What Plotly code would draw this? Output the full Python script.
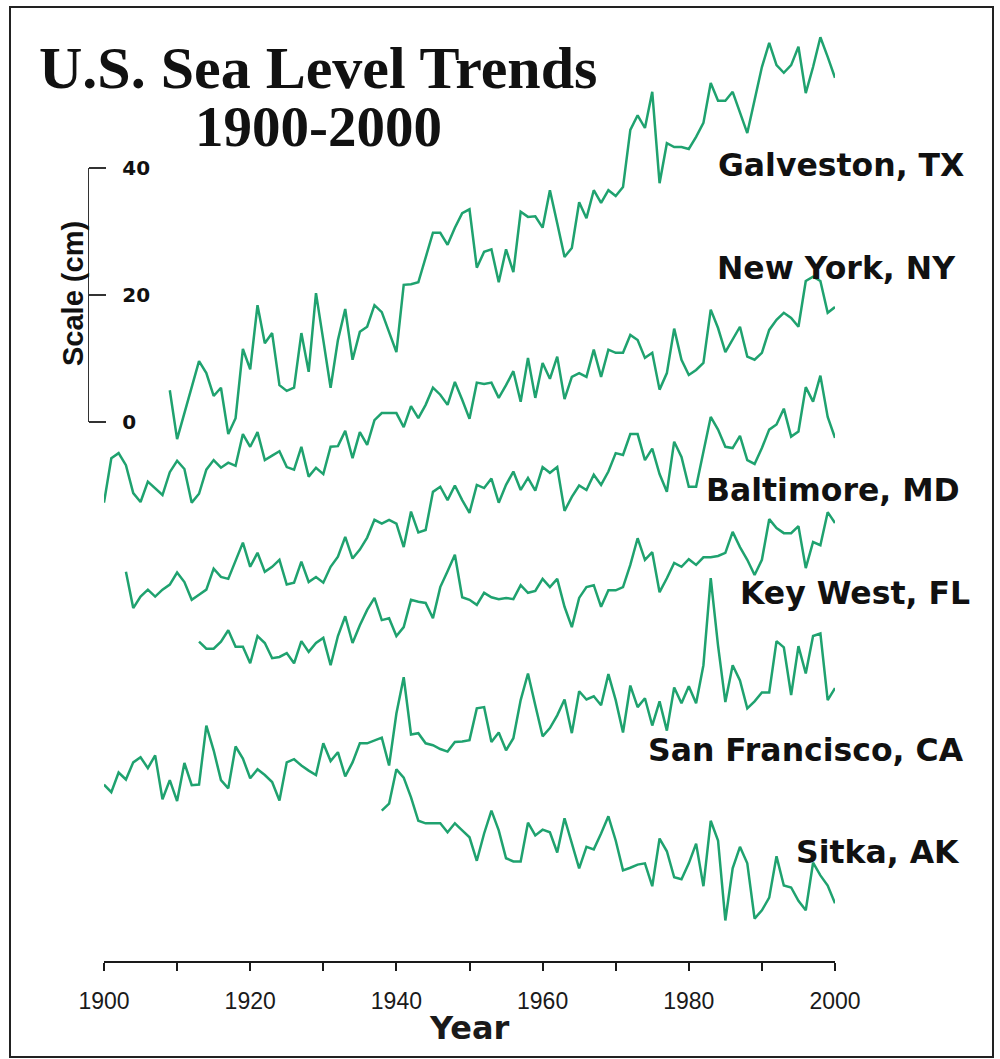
import plotly.graph_objects as go

# ---------------- data (cm) ----------------
STATIONS = ["Galveston, TX", "New York, NY", "Baltimore, MD",
            "Key West, FL", "San Francisco, CA", "Sitka, AK"]

GALVESTON_START = 1909
GALVESTON = [5.0, -2.7, 1.4, 5.5, 9.6, 7.7, 4.1, 5.4, -1.9, 0.6,
             11.5, 8.3, 18.4, 12.4, 14.0, 5.8, 4.9, 5.4, 14.0, 7.9,
             20.3, 12.9, 5.4, 12.9, 17.8, 9.8, 14.2, 15.0, 18.4, 17.3,
             14.2, 11.0, 21.6, 21.7, 22.0, 25.8, 29.8, 29.8, 27.9, 30.6,
             32.9, 33.5, 24.3, 26.8, 27.2, 22.0, 27.2, 23.6, 33.1, 32.3,
             32.4, 30.6, 36.5, 31.3, 26.0, 27.4, 34.6, 32.1, 36.5, 34.5,
             36.5, 35.6, 37.0, 46.0, 48.3, 46.3, 52.0, 37.6, 43.9, 43.3,
             43.3, 43.0, 44.9, 47.1, 53.4, 50.6, 50.6, 52.0, 48.7, 45.5,
             50.7, 55.9, 59.7, 56.2, 55.0, 56.2, 59.1, 51.8, 55.9, 60.6,
             57.5, 54.2]

NEWYORK_START = 1900
NEWYORK = [1.3, 8.3, 9.1, 7.2, 2.8, 1.4, 4.6, 3.6, 2.5, 6.1,
           7.9, 6.6, 1.3, 2.7, 6.5, 8.0, 6.8, 7.6, 7.1, 12.1,
           10.1, 12.4, 8.0, 8.7, 9.4, 6.9, 6.5, 10.1, 5.4, 6.8,
           5.8, 10.1, 10.2, 12.6, 8.3, 12.4, 10.4, 14.3, 15.4, 15.4,
           15.4, 13.2, 16.5, 14.6, 16.7, 19.4, 18.3, 16.7, 20.3, 17.5,
           14.5, 20.2, 20.0, 20.2, 17.8, 19.8, 22.0, 17.2, 24.1, 17.8,
           23.3, 20.8, 24.3, 17.6, 21.1, 21.7, 21.1, 25.4, 21.1, 25.4,
           24.9, 24.9, 27.7, 26.9, 24.1, 24.9, 19.1, 21.7, 28.7, 23.8,
           21.4, 22.2, 23.3, 31.7, 28.8, 25.0, 26.9, 29.0, 24.3, 23.8,
           24.9, 28.5, 30.1, 31.2, 30.4, 29.0, 36.2, 36.9, 36.2, 31.2,
           32.1]

BALTIMORE_START = 1903
BALTIMORE = [4.4, -1.3, 0.5, 1.6, 0.5, 1.6, 2.4,
             4.3, 2.8, 0.0, 0.8, 1.6, 4.9, 3.6, 3.3, 6.3, 9.0,
             5.2, 7.4, 4.4, 5.2, 6.3, 2.4, 2.7, 6.0, 2.8, 3.6,
             2.7, 5.2, 6.8, 9.9, 6.5, 7.9, 9.8, 12.6, 12.0, 12.6,
             12.0, 8.3, 13.9, 10.6, 11.0, 17.0, 17.8, 15.7, 18.0, 15.7,
             13.7, 18.1, 17.6, 19.1, 15.3, 18.1, 20.2, 17.3, 19.2, 17.2,
             20.9, 20.0, 20.9, 14.0, 16.2, 18.0, 17.3, 19.7, 18.1, 20.2,
             23.1, 22.8, 26.1, 26.1, 22.0, 23.8, 19.8, 17.0, 24.9, 22.5,
             17.8, 17.8, 23.3, 28.8, 26.8, 24.1, 23.9, 25.8, 22.0, 21.4,
             23.9, 26.8, 27.6, 30.1, 25.7, 26.5, 33.5, 31.2, 35.3, 28.8,
             25.5]

KEYWEST_START = 1913
KEYWEST = [5.4, 4.3, 4.3, 5.4, 7.2, 4.6, 4.6,
           2.0, 6.3, 5.2, 2.8, 3.0, 3.6, 2.0, 5.5, 3.8, 5.2,
           6.0, 1.7, 6.3, 9.4, 5.2, 8.0, 10.4, 12.3, 8.8, 9.1,
           6.3, 7.7, 12.0, 11.7, 11.5, 9.1, 14.0, 16.5, 19.1, 12.4,
           12.0, 11.2, 13.1, 12.4, 12.1, 12.3, 12.1, 14.3, 13.1, 13.4,
           15.3, 14.0, 15.3, 10.9, 7.7, 12.3, 14.0, 14.3, 10.9, 13.5,
           13.5, 14.0, 17.5, 21.7, 18.3, 19.5, 13.2, 15.4, 17.8, 17.2,
           18.4, 17.5, 18.7, 18.7, 18.9, 19.4, 22.7, 20.3, 18.3, 15.9,
           18.3, 24.7, 23.3, 22.5, 22.5, 23.6, 17.0, 21.1, 20.6, 25.8,
           24.1]

SANFRAN_START = 1900
SANFRAN = [0.9, -0.3, 2.8, 1.7, 4.4, 5.2, 3.5, 5.5, -1.4, 1.6,
           -1.7, 4.3, 0.8, 0.9, 10.2, 6.3, 1.6, 0.3, 6.9, 5.0,
           1.9, 3.3, 2.4, 1.3, -1.6, 4.4, 4.9, 3.9, 3.1, 2.4,
           7.4, 4.6, 6.0, 2.2, 4.4, 7.4, 7.4, 7.9, 8.3, 3.9,
           12.1, 17.8, 8.8, 9.0, 7.4, 7.1, 6.5, 6.1, 7.6, 7.7,
           7.9, 12.9, 13.1, 7.6, 9.1, 6.3, 8.2, 14.2, 18.4, 13.4,
           8.5, 9.8, 11.8, 14.3, 9.0, 15.6, 14.3, 14.8, 13.4, 18.3,
           14.2, 9.1, 16.5, 13.1, 14.5, 10.2, 14.0, 9.4, 16.2, 13.7,
           16.4, 13.7, 19.7, 33.4, 22.8, 13.9, 19.7, 17.3, 12.9, 14.0,
           15.4, 15.4, 23.5, 22.5, 15.0, 22.7, 18.4, 24.3, 24.7, 14.2,
           16.1]

SITKA_START = 1938
SITKA = [8.8, 9.9,
         15.3, 14.0, 10.9, 7.2, 6.8, 6.8, 6.8, 5.4, 6.8, 5.7,
         4.6, 0.9, 5.2, 8.8, 5.7, 1.3, 0.8, 0.8, 6.9, 4.9,
         5.8, 5.4, 2.2, 7.6, 3.6, -0.3, 3.1, 2.7, 5.2, 7.9,
         4.1, -0.6, -0.2, 0.3, 0.5, -3.1, 4.4, 2.4, -1.7, -2.0,
         0.5, 3.6, -3.1, 7.2, 4.1, -8.5, -0.3, 3.1, 0.5, -8.2,
         -6.9, -4.9, 1.6, -3.0, -3.3, -5.4, -6.9, 0.6, -1.4, -3.0,
         -5.8]

X_TICKS = [1900, 1910, 1920, 1930, 1940, 1950, 1960, 1970, 1980, 1990, 2000]
X_TICK_TEXT = ["1900", "", "1920", "", "1940", "", "1960", "", "1980", "", "2000"]
SCALE_TICKS = [0, 20, 40]

# ---------------- layout / style (positions) ----------------
OFFSETS = [0, -14, -28, -40, -58, -70]     # vertical stacking of the curves (cm)
SERIES = [(GALVESTON_START, GALVESTON), (NEWYORK_START, NEWYORK),
          (BALTIMORE_START, BALTIMORE), (KEYWEST_START, KEYWEST),
          (SANFRAN_START, SANFRAN), (SITKA_START, SITKA)]
LABEL_POS = [(966, 165), (958, 268), (962, 490), (972, 593), (966, 750), (962, 852)]

W, H = 1000, 1059
GREEN = "#1fa26f"
SANS = "Liberation Sans, Arial, sans-serif"
WIDE = "DejaVu Sans, sans-serif"
SERIF = "Liberation Serif, Times New Roman, serif"


def px(x):
    return x / W


def py(y):
    return 1 - y / H


fig = go.Figure()
for (start, vals), off in zip(SERIES, OFFSETS):
    years = list(range(start, start + len(vals)))
    fig.add_trace(go.Scatter(
        x=years, y=[v + off for v in vals], mode="lines",
        line=dict(color=GREEN, width=2.5), hoverinfo="skip", showlegend=False))

# invisible anchor trace so the scale axis is drawn
fig.add_trace(go.Scatter(x=[None], y=[None], yaxis="y2", mode="lines",
                         showlegend=False, hoverinfo="skip"))

# y range so that 0 cm sits at pixel 422 and 1 cm = 6.35 px
y_top = 422 / 6.35
y_bot = (422 - H) / 6.35

fig.update_layout(
    template="none",
    width=W, height=H,
    margin=dict(l=0, r=0, t=0, b=0),
    paper_bgcolor="white", plot_bgcolor="rgba(0,0,0,0)",
    showlegend=False,
    xaxis=dict(domain=[px(104), px(835)], range=[1900, 2000], anchor="free",
               position=py(962), showline=True, linecolor="#1a1a1a", linewidth=2,
               ticks="outside", ticklen=8, tickwidth=2, tickcolor="#1a1a1a",
               tickmode="array", tickvals=X_TICKS, ticktext=X_TICK_TEXT,
               tickfont=dict(family=SANS, size=23, color="#1a1a1a"),
               ticklabelstandoff=10,
               showgrid=False, zeroline=False, automargin=False),
    xaxis2=dict(overlaying="x", range=[1900, 2000], anchor="free", position=py(962),
                showline=False, ticks="inside", ticklen=8, tickwidth=2,
                tickcolor="#1a1a1a", tickmode="array", tickvals=X_TICKS,
                showticklabels=False, showgrid=False, zeroline=False, automargin=False),
    yaxis=dict(domain=[0, 1], range=[y_bot, y_top], visible=False,
               showgrid=False, zeroline=False, automargin=False),
    yaxis2=dict(domain=[py(422), py(168)], range=[0, 40], anchor="free",
                position=px(88), side="right", showline=True, linecolor="#333333",
                linewidth=1.3, ticks="outside", ticklen=17, tickwidth=1.3,
                tickcolor="#333333", tickmode="array", tickvals=SCALE_TICKS,
                tickfont=dict(family=WIDE, size=20, color="#111111", weight="bold"),
                ticklabelstandoff=12,
                showgrid=False, zeroline=False, automargin=False),
)

annotations = [
    dict(text="<b>U.S. Sea Level Trends</b>", x=px(318), y=py(68),
         font=dict(family=SERIF, size=60, color="#111111")),
    dict(text="<b>1900-2000</b>", x=px(318), y=py(127),
         font=dict(family=SERIF, size=57, color="#111111")),
    dict(text="<b>Scale (cm)</b>", x=px(73), y=py(294), textangle=-90,
         font=dict(family=SANS, size=29, color="#111111")),
    dict(text="<b>Year</b>", x=px(469), y=py(1028),
         font=dict(family=WIDE, size=32, color="#1a1a1a")),
]
for name, (xr, yc) in zip(STATIONS, LABEL_POS):
    annotations.append(dict(text="<b>" + name + "</b>", x=px(xr), y=py(yc),
                            xanchor="right",
                            font=dict(family=WIDE, size=31.5, color="#111111")))
for a in annotations:
    a.setdefault("xanchor", "center")
    a.update(xref="paper", yref="paper", yanchor="middle", showarrow=False)
fig.update_layout(annotations=annotations)

fig.add_shape(type="rect", xref="paper", yref="paper",
              x0=px(10), x1=px(993), y0=py(1057), y1=py(7),
              line=dict(color="#222222", width=2), fillcolor="rgba(0,0,0,0)")

fig.write_html("out.html",
               config={"displayModeBar": False, "staticPlot": True},
               post_script="document.body.style.margin='0';"
                           "document.body.style.overflow='hidden';")
